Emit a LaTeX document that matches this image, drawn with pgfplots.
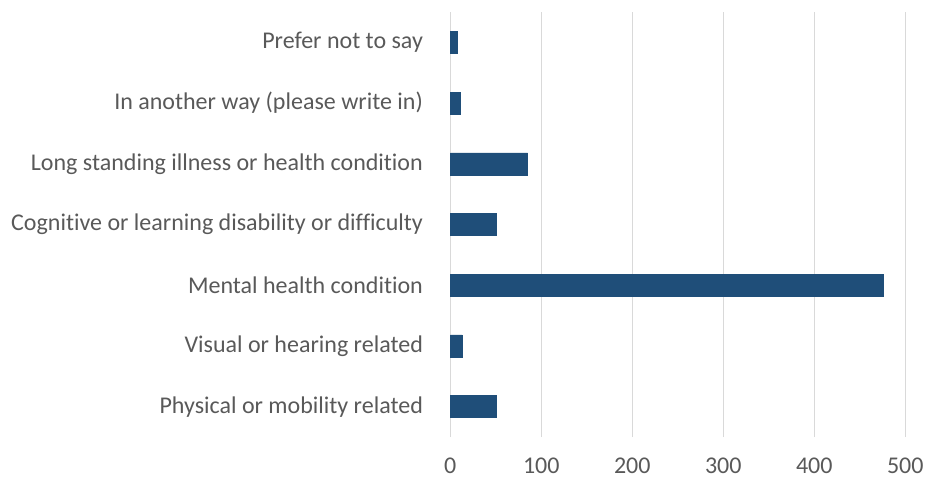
\documentclass[border=0pt]{standalone}
\usepackage{pgfplots}
\pgfplotsset{compat=1.18}
\usepackage{fontspec}
\setmainfont[Ligatures={NoCommon}]{Carlito}
\definecolor{barblue}{HTML}{1F4E79}
\definecolor{gridgray}{HTML}{D9D9D9}
\definecolor{labgray}{HTML}{595959}
\begin{document}
\begin{tikzpicture}
\useasboundingbox (-337.7pt,-31.5pt) rectangle (356pt,327.75pt);
\begin{axis}[
  at={(0,0)}, anchor=south west,
  scale only axis,
  width=341.25pt, height=318.75pt,
  xbar, bar width=16.5pt,
  xmin=0, xmax=500,
  ymin=-0.5, ymax=6.5,
  xtick={0,100,...,500},
  ytick={0,...,6},
  yticklabels={Physical or mobility related,Visual or hearing related,Mental health condition,Cognitive or learning disability or difficulty,Long standing illness or health condition,In another way (please write in),Prefer not to say},
  xmajorgrids, grid style={gridgray, line width=1pt},
  axis line style={draw=none},
  axis x line*=bottom, axis y line*=left,
  major tick length=0pt,
  tick style={draw=none},
  /pgf/number format/assume math mode=true,
  ticklabel style={font=\fontsize{18}{21}\selectfont, text=labgray},
  yticklabel style={xshift=-17pt},
  xticklabel style={yshift=-12pt},
  clip=false,
]
\addplot[fill=barblue, draw=barblue] coordinates {
(50,0) (13,1) (476,2) (51,3) (85,4) (11,5) (8,6)
};
\end{axis}
\end{tikzpicture}
\end{document}
